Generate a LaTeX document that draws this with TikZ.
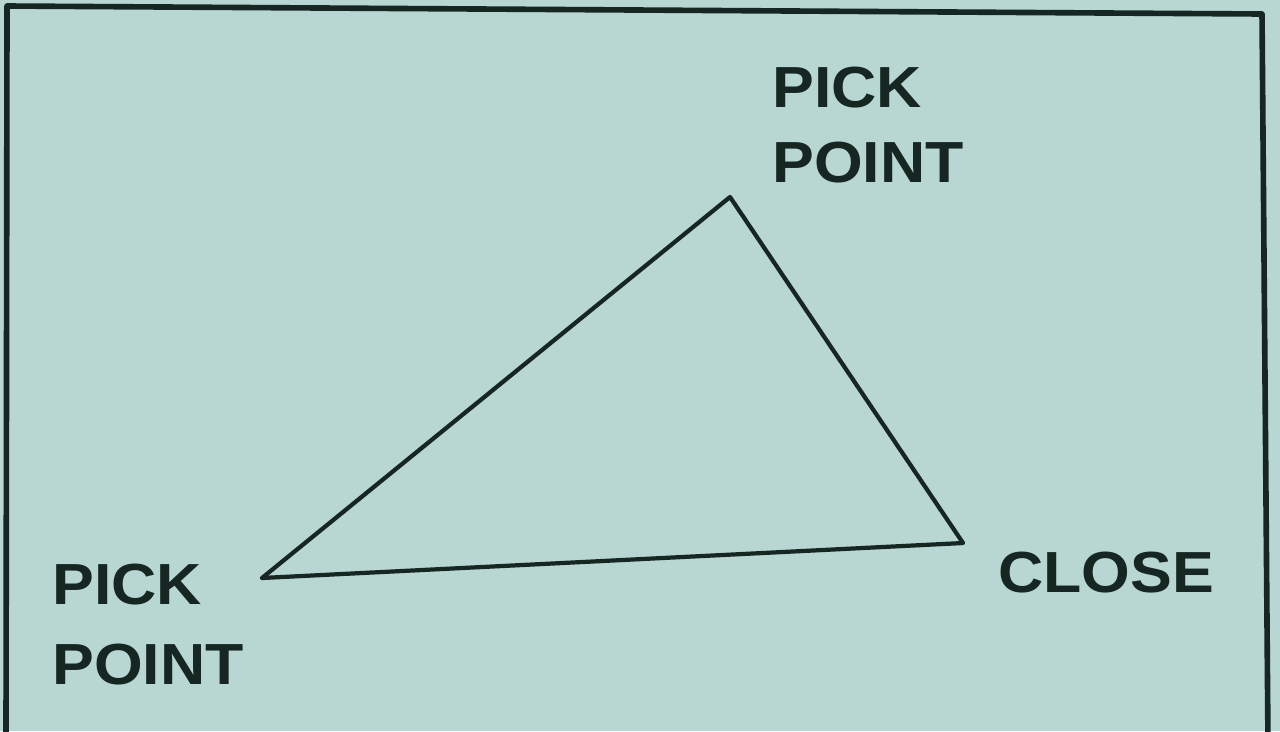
\documentclass[tikz,border=0pt]{standalone}
\usepackage{fontspec}
\newfontfamily\labfont[FakeStretch=1.08]{Liberation Sans}
\definecolor{paper}{RGB}{184,214,210}
\definecolor{ink}{RGB}{22,38,34}
\begin{document}
\begin{tikzpicture}[x=0.02cm,y=-0.02cm,
  lab/.style={anchor=base west,inner sep=0pt,text=ink,font=\labfont\bfseries\fontsize{33}{40}\selectfont},
  edge/.style={draw=ink,line width=2.4pt,line join=round,line cap=round},
  frame/.style={draw=ink,line width=3.2pt,line join=round}]
\useasboundingbox (0,0) rectangle (1280,731);
\fill[paper] (0,0) rectangle (1280,731);
% frame (bottom edge lies outside the photo)
\draw[frame] (6,745) -- (7,6) -- (1262,14) -- (1268,745);
% triangle vertices
\coordinate (p1) at (262,578);
\coordinate (p2) at (730,197);
\coordinate (cl) at (963,543);
\draw[edge] (p1) -- (p2) -- (cl) -- (p1);
% labels
\node[lab] (tpick) at (772,107) {PICK};
\node[lab] (tpoint) at (772,182) {POINT};
\node[lab] (bpick) at (52,604) {PICK};
\node[lab] (bpoint) at (52,684) {POINT};
\node[lab] (close) at (998,592) {CLOSE};
\end{tikzpicture}
\end{document}
